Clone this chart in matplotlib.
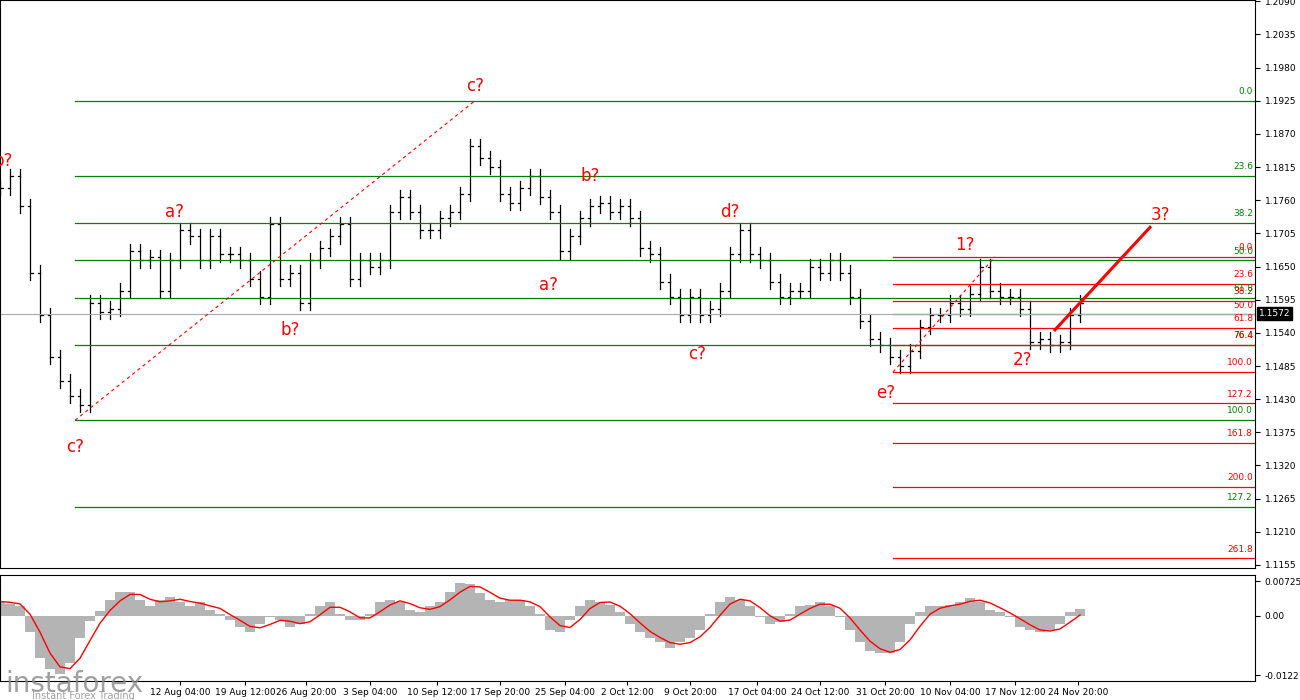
import matplotlib
matplotlib.use("Agg")
import matplotlib.pyplot as plt
import numpy as np

closes = [1.178,1.180,1.175,1.164,1.157,1.150,1.146,1.1435,1.142,1.159,
          1.1575,1.158,1.161,1.1675,1.166,1.1666,1.161,1.166,1.171,1.170,
          1.166,1.170,1.167,1.167,1.166,1.163,1.160,1.172,1.163,1.164,
          1.159,1.166,1.168,1.170,1.172,1.163,1.166,1.165,1.166,1.174,
          1.1765,1.174,1.171,1.171,1.173,1.174,1.177,1.185,1.183,1.1815,
          1.177,1.1755,1.178,1.180,1.1765,1.174,1.1675,1.170,1.173,1.175,
          1.1755,1.174,1.175,1.173,1.168,1.167,1.1625,1.160,1.157,1.160,
          1.157,1.158,1.161,1.167,1.171,1.167,1.166,1.1625,1.160,1.161,
          1.161,1.165,1.164,1.166,1.164,1.160,1.156,1.153,1.152,1.150,
          1.1485,1.151,1.155,1.157,1.157,1.159,1.158,1.1605,1.165,1.161,
          1.160,1.160,1.158,1.1525,1.153,1.152,1.1525,1.157,1.159]
macd = [0.003,0.0025,0.002,-0.0034,-0.0087,-0.011,-0.012,-0.0098,-0.0045,-0.001,
        0.001,0.0034,0.005,0.005,0.0034,0.002,0.0034,0.004,0.003,0.002,
        0.003,0.0013,0.0004,-0.0008,-0.0023,-0.0034,-0.0017,-0.0002,-0.0008,-0.0023,
        -0.0017,0.0004,0.002,0.003,0.0004,-0.0008,-0.0008,0.0004,0.003,0.0034,
        0.003,0.0013,0.0008,0.002,0.003,0.005,0.0068,0.0066,0.0047,0.0034,
        0.003,0.0034,0.0034,0.002,0.0004,-0.003,-0.0034,-0.0008,0.002,0.0034,
        0.003,0.0023,0.0008,-0.0017,-0.0034,-0.0045,-0.0055,-0.0066,-0.0055,-0.0045,
        -0.003,0.0004,0.003,0.004,0.0034,0.002,-0.0002,-0.0017,-0.0013,0.0004,
        0.002,0.0023,0.003,0.002,-0.0002,-0.003,-0.0055,-0.0072,-0.0077,-0.0077,
        -0.0055,-0.0017,0.0008,0.002,0.002,0.0023,0.003,0.0038,0.003,0.0013,
        0.0008,-0.0002,-0.0023,-0.003,-0.0034,-0.003,-0.0017,0.0008,0.0015]
date_labels = ["12 Aug 04:00","19 Aug 12:00","26 Aug 20:00","3 Sep 04:00","10 Sep 12:00",
               "17 Sep 20:00","25 Sep 04:00","2 Oct 12:00","9 Oct 20:00","17 Oct 04:00",
               "24 Oct 12:00","31 Oct 20:00","10 Nov 04:00","17 Nov 12:00","24 Nov 20:00"]
date_pos = [18.0,24.5,30.6,37.0,43.7,50.0,56.5,62.7,69.0,75.7,82.0,88.5,95.0,101.5,107.8]
price_ticks = [1.1155,1.1210,1.1265,1.1320,1.1375,1.1430,1.1485,1.1540,1.1595,1.1650,
               1.1705,1.1760,1.1815,1.1870,1.1925,1.1980,1.2035,1.2090]
g_levels = [0.0,23.6,38.2,50.0,61.8,76.4,100.0,127.2]
g_top, g_bot = 1.1925, 1.1395
r_levels = [0.0,23.6,38.2,50.0,61.8,76.4,100.0,127.2,161.8,200.0,261.8]
r_top, r_bot = 1.1666, 1.1475
waves = [("b?",0.3,1.1825),("c?",7.5,1.1350),("a?",17.5,1.1740),("b?",29.0,1.1545),
         ("c?",47.5,1.1950),("a?",54.8,1.1620),("b?",59.0,1.1800),("c?",69.7,1.1505),
         ("d?",73.0,1.1740),("e?",88.6,1.1440),("1?",96.5,1.1685),("2?",102.2,1.1495),("3?",116.0,1.1735)]
current = 1.1572

W, H = 1300, 700
fig = plt.figure(figsize=(13, 7), dpi=100)
XR = 1255 / W
ax = fig.add_axes([0, 1 - 568 / H, XR, 568 / H])
ax2 = fig.add_axes([0, 1 - 681 / H, XR, 106 / H], sharex=ax)

x = np.arange(len(closes))
c = np.array(closes)
o = np.concatenate([[c[0]], c[:-1]])
hi = np.maximum(o, c) + 0.0012
lo = np.minimum(o, c) - 0.0012
for i in range(len(c)):
    ax.plot([x[i], x[i]], [lo[i], hi[i]], color="black", lw=0.9)
    ax.plot([x[i] - 0.25, x[i]], [o[i], o[i]], color="black", lw=0.9)
    ax.plot([x[i], x[i] + 0.25], [c[i], c[i]], color="black", lw=0.9)

XMAX = 125.5
for lv in g_levels:
    p = g_top - (g_top - g_bot) * lv / 100
    ax.plot([7.5, XMAX], [p, p], color="green", lw=0.9)
    ax.text(XMAX - 0.2, p + 0.0008, f"{lv:.1f}", color="green", fontsize=6.5, ha="right", va="bottom")
for lv in r_levels:
    p = r_top - (r_top - r_bot) * lv / 100
    ax.plot([89.3, XMAX], [p, p], color="red", lw=0.9)
    ax.text(XMAX - 0.2, p + 0.0008, f"{lv:.1f}", color="red", fontsize=6.5, ha="right", va="bottom")
ax.axhline(current, color="#aaaaaa", lw=0.8)
ax.plot([7.5, 47.5], [g_bot, g_top], color="red", ls=(0, (3, 3)), lw=0.8)
ax.plot([89.3, 99.5], [r_bot, r_top], color="red", ls=(0, (3, 3)), lw=0.8)
ax.plot([105.5, 115.0], [1.1545, 1.1715], color="red", lw=2.2)
for t, xx, yy in waves:
    ax.text(xx, yy, t, color="red", fontsize=12, ha="center", va="center")

ax.set_xlim(0, XMAX)
ax.set_ylim(1.1150, 1.2092)
ax.yaxis.tick_right()
ax.set_yticks(price_ticks)
ax.set_yticklabels([f"{v:.4f}" for v in price_ticks], fontsize=6.5)
ax.tick_params(axis="x", bottom=False, labelbottom=False)
ax.text(1.003, (current - 1.1150) / (1.2092 - 1.1150), f"{current:.4f}", transform=ax.transAxes,
        fontsize=6.5, color="white", va="center", ha="left",
        bbox=dict(facecolor="black", edgecolor="black", pad=1.5))

m = np.array(macd)
xm = np.arange(len(m))
sig = np.convolve(np.concatenate([[m[0]] * 2, m]), np.ones(3) / 3, mode="valid")
ax2.bar(xm, m, width=1.0, color="#b4b4b4")
ax2.plot(xm, sig, color="red", lw=1.0)
ax2.set_ylim(-0.0135, 0.0085)
ax2.yaxis.tick_right()
ax2.set_yticks([0.00725, 0.0, -0.01226])
ax2.set_yticklabels(["0.00725", "0.00", "-0.0122"], fontsize=6.5)
ax2.set_xticks(date_pos)
ax2.set_xticklabels(date_labels, fontsize=6.5)
ax2.tick_params(axis="x", length=3, pad=2)
for a in (ax, ax2):
    for s in a.spines.values():
        s.set_linewidth(0.8)
fig.text(0.004, 0.012, "instaforex", fontsize=20, color="#888888", alpha=0.8)
fig.text(0.025, 0.002, "Instant Forex Trading", fontsize=7, color="#888888", alpha=0.8)
fig.savefig("out.png", dpi=100, facecolor="white")
